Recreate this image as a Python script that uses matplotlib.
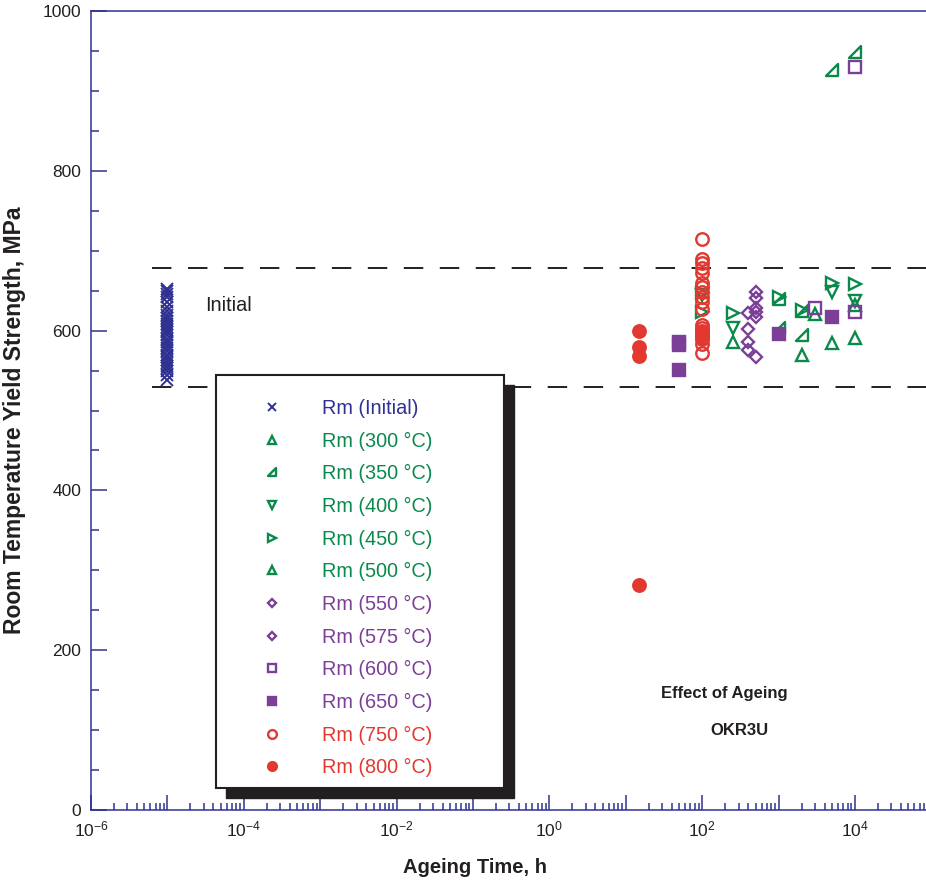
import numpy as np
import matplotlib
matplotlib.use("Agg")
import matplotlib.pyplot as plt
from matplotlib.path import Path
from matplotlib.patches import Rectangle
from matplotlib.ticker import LogLocator, FuncFormatter, MultipleLocator

plt.rcParams["font.family"] = ["Liberation Sans", "DejaVu Sans"]
plt.rcParams["mathtext.fontset"] = "custom"
plt.rcParams["mathtext.rm"] = "Liberation Sans"
plt.rcParams["mathtext.it"] = "Liberation Sans:italic"
plt.rcParams["mathtext.bf"] = "Liberation Sans:bold"

# --- data (ageing time in h, yield strength in MPa) ---
t_init = [1e-5] * 29
rm_init = [538, 545, 550, 553, 556, 560, 563, 567, 570, 574, 578, 582, 586, 590,
           594, 598, 601, 604, 608, 612, 616, 620, 625, 630, 636, 642, 646, 650, 652]

t_300 = [250, 2000, 5000, 10000]
rm_300 = [586, 569, 585, 591]

t_350 = [1000, 1000, 2000, 2000, 5000, 10000]
rm_350 = [603, 640, 594, 624, 926, 949]

t_400 = [250, 5000, 10000, 100]
rm_400 = [603, 648, 637, 645]

t_450 = [100, 100, 250, 1000, 2000, 5000, 10000]
rm_450 = [647, 623, 622, 642, 626, 660, 658]

t_500 = [3000, 10000]
rm_500 = [621, 632]

t_550 = [400, 400, 400, 400]
rm_550 = [622, 602, 586, 576]

t_575 = [500, 500, 500, 500, 500, 500]
rm_575 = [648, 641, 628, 623, 617, 567]

t_600 = [3000, 10000, 10000]
rm_600 = [628, 930, 623]

t_650 = [50, 50, 50, 1000, 5000]
rm_650 = [586, 582, 551, 596, 617]

t_750 = [100] * 18
rm_750 = [715, 690, 685, 678, 672, 660, 655, 648, 642, 636, 627, 607, 603,
          598, 595, 591, 583, 572]

t_800 = [15, 15, 15, 15, 100, 100, 100]
rm_800 = [599, 580, 568, 282, 600, 595, 590]

band_lo, band_hi = 530, 678

navy = "#2e3192"
green = "#0a8a4a"
purple = "#7b3f98"
red = "#e2382f"
ink = "#231f20"

# right-angle triangle marker used for 350 °C
tri_right = Path([(-1, -1), (1, -1), (1, 1), (-1, -1)],
                 [Path.MOVETO, Path.LINETO, Path.LINETO, Path.CLOSEPOLY])

series = [
    (t_init, rm_init, "Rm (Initial)", "x", navy, False, 9),
    (t_300, rm_300, "Rm (300 °C)", "^", green, False, 8.5),
    (t_350, rm_350, "Rm (350 °C)", tri_right, green, False, 8),
    (t_400, rm_400, "Rm (400 °C)", "v", green, False, 8.5),
    (t_450, rm_450, "Rm (450 °C)", ">", green, False, 8.5),
    (t_500, rm_500, "Rm (500 °C)", "^", green, False, 8.5),
    (t_550, rm_550, "Rm (550 °C)", "D", purple, False, 6.5),
    (t_575, rm_575, "Rm (575 °C)", "D", purple, False, 6.5),
    (t_600, rm_600, "Rm (600 °C)", "s", purple, False, 8),
    (t_650, rm_650, "Rm (650 °C)", "s", purple, True, 9),
    (t_750, rm_750, "Rm (750 °C)", "o", red, False, 9),
    (t_800, rm_800, "Rm (800 °C)", "o", red, True, 9),
]

fig = plt.figure(figsize=(9.26, 8.85), dpi=100)
W, H = 926, 885
ax = fig.add_axes([91 / W, 75 / H, 835 / W, 799 / H])

# dashed scatter band
for lvl in (band_lo, band_hi):
    ax.plot([10 ** -5.2, 10 ** 5], [lvl, lvl], color=ink, lw=1.4,
            ls=(0, (10, 8.5)), zorder=1)

handles = []
for t, rm, lab, mk, col, filled, ms in series:
    h, = ax.plot(t, rm, ls="none", marker=mk, ms=ms,
                 mec=col, mfc=col if filled else "none",
                 mew=1.4 if mk == "x" else 1.7, label=lab, zorder=3)
    handles.append(h)

ax.set_xscale("log")
ax.set_xlim(1e-6, 10 ** 4.93)
ax.set_ylim(0, 1000)

ax.xaxis.set_major_locator(LogLocator(base=10, numticks=30))
ax.xaxis.set_minor_locator(LogLocator(base=10, subs=np.arange(2, 10), numticks=100))


def fmt_exp(v, pos):
    e = int(round(np.log10(v)))
    return r"$10^{%d}$" % e if e % 2 == 0 else ""


ax.xaxis.set_major_formatter(FuncFormatter(fmt_exp))
ax.yaxis.set_major_locator(MultipleLocator(200))
ax.yaxis.set_minor_locator(MultipleLocator(50))

ax.tick_params(which="both", direction="in", color=navy, width=1.1,
               labelsize=12.5, labelcolor=ink, top=False, right=False)
ax.tick_params(axis="x", which="major", length=11, pad=7)
ax.tick_params(axis="x", which="minor", length=5)
ax.tick_params(axis="y", which="major", length=11.5, pad=7)
ax.tick_params(axis="y", which="minor", length=5.5)

for side in ("left", "bottom", "top"):
    ax.spines[side].set_color(navy)
    ax.spines[side].set_linewidth(1.1)
ax.spines["right"].set_visible(False)

ax.set_xlabel("Ageing Time, h", fontsize=14.5, fontweight="bold", color=ink, labelpad=14)
ax.xaxis.set_label_coords((475 - 91) / 835, -0.06)
ax.set_ylabel("Room Temperature Yield Strength, MPa", fontsize=16.5,
              fontweight="bold", color=ink)
ax.yaxis.set_label_coords(-0.078, (810 - 420) / 799)

ax.text(10 ** -4.51, 631, "Initial", fontsize=14.3, color=ink, ha="left", va="center")
ax.text(10 ** 2.285, 146, "Effect of Ageing", fontsize=12, fontweight="bold",
        color=ink, ha="center", va="center")
ax.text(10 ** 2.49, 99, "OKR3U", fontsize=12, fontweight="bold",
        color=ink, ha="center", va="center")

# legend box with heavy drop shadow
bx0, by0, bx1, by1 = 216, 375, 504, 788
off = 10
fig.patches.append(Rectangle(((bx0 + off) / W, 1 - (by1 + off) / H),
                             (bx1 - bx0) / W, (by1 - by0) / H,
                             transform=fig.transFigure, facecolor=ink,
                             edgecolor=ink, zorder=5))
fig.patches.append(Rectangle((bx0 / W, 1 - by1 / H), (bx1 - bx0) / W, (by1 - by0) / H,
                             transform=fig.transFigure, facecolor="white",
                             edgecolor=ink, lw=1.5, zorder=6))

leg = ax.legend(handles=handles, loc="upper left",
                bbox_to_anchor=(257 / W, 1 - 399 / H),
                bbox_transform=fig.transFigure, frameon=False,
                fontsize=14.3, markerscale=0.7, handlelength=1.5,
                handletextpad=1.77, labelspacing=0.685, borderpad=0,
                borderaxespad=0)
for txt, s in zip(leg.get_texts(), series):
    txt.set_color(s[4])
leg.remove()
fig.add_artist(leg)
leg.set_zorder(7)

fig.savefig("out.png", dpi=100)
